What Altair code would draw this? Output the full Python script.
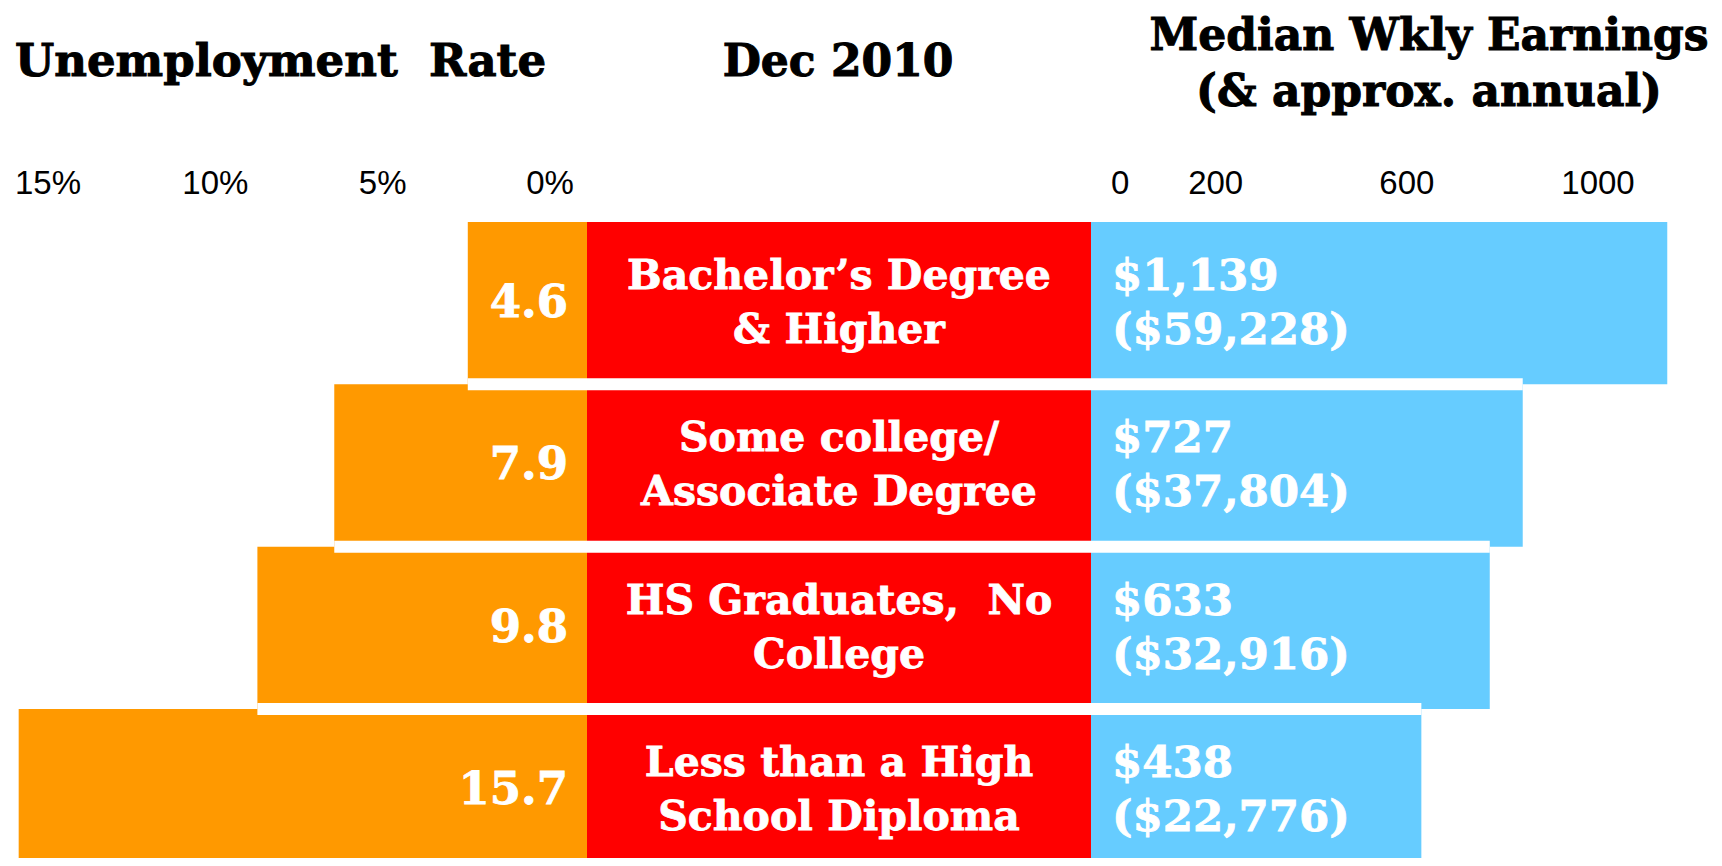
import altair as alt
import pandas as pd

# ---- data ----
label_line1 = ["Bachelor\u2019s Degree", "Some college/", "HS Graduates,\u00a0 No", "Less than a High"]
label_line2 = ["& Higher", "Associate Degree", "College", "School Diploma"]
unemployment_rate = [4.6, 7.9, 9.8, 15.7]
weekly_earnings = [1139, 727, 633, 438]
annual_earnings = [59228, 37804, 32916, 22776]
rate_ticks = [15, 10, 5, 0]
earn_ticks = [0, 200, 600, 1000]

title_left = "Unemployment\u00a0 Rate"
title_mid = "Dec 2010"
title_right1 = "Median Wkly Earnings"
title_right2 = "(& approx. annual)"

# ---- tables built from the arrays ----
rows = pd.DataFrame({
    "row": list(range(len(unemployment_rate))),
    "line1": label_line1,
    "line2": label_line2,
    "rate": unemployment_rate,
    "weekly": weekly_earnings,
    "annual": annual_earnings,
})
rows["row_end"] = rows["row"] + 1
rows["mid"] = rows["row"] + 0.5
rows["rate_label"] = rows["rate"].map(lambda v: f"{v:.1f}")
rows["weekly_label"] = rows["weekly"].map(lambda v: f"${v:,}")
rows["annual_label"] = rows["annual"].map(lambda v: f"(${v:,})")

BAND_HALF = 0.037  # half thickness of the white separators, in row units
n = len(unemployment_rate)
bands = pd.DataFrame({
    "boundary": [i + 1 for i in range(n - 1)],
    "rate": [min(unemployment_rate[i], unemployment_rate[i + 1]) for i in range(n - 1)],
    "weekly": [min(weekly_earnings[i], weekly_earnings[i + 1]) for i in range(n - 1)],
})
bands["b_top"] = bands["boundary"] - BAND_HALF
bands["b_bot"] = bands["boundary"] + BAND_HALF

rticks = pd.DataFrame({"tick": rate_ticks, "lab": [f"{t}%" for t in rate_ticks]})
eticks = pd.DataFrame({"tick": earn_ticks, "lab": [f"{t}" for t in earn_ticks]})

# ---- layout / style ----
LEFT_W, MID_W, RIGHT_W, H = 579, 504, 623, 850
ORANGE, RED, BLUE = "#FF9900", "#FF0000", "#66CCFF"
SERIF = "DejaVu Serif"
SANS = "Liberation Sans"

y_scale = alt.Scale(domain=[0, 4], range=[214, 863.3], nice=False, zero=False)
u_scale = alt.Scale(domain=[0, 15], range=[645.9, 39.0], nice=False, zero=False)
tu_scale = alt.Scale(domain=[0, 15], range=[542.0, 40.0], nice=False, zero=False)
e_scale = alt.Scale(domain=[0, 1000], range=[176.7, 527.5], nice=False, zero=False)
te_scale = alt.Scale(domain=[0, 1000], range=[29.1, 507.0], nice=False, zero=False)

Y_row = alt.Y("row:Q", scale=y_scale, axis=None)
Y2_row = alt.Y2("row_end:Q")
Y_mid = alt.Y("mid:Q", scale=y_scale, axis=None)
Y_btop = alt.Y("b_top:Q", scale=y_scale, axis=None)
Y_bbot = alt.Y2("b_bot:Q")


def title_text(text, x, y, align, size=44):
    return alt.Chart(pd.DataFrame({"t": [text]})).mark_text(
        align=align, baseline="alphabetic", font=SERIF, fontWeight="bold",
        fontSize=size, color="black", stroke="black", strokeWidth=1
    ).encode(x=alt.value(x), y=alt.value(y), text="t:N")


def white_text(align, size, dy=0):
    return dict(align=align, baseline="middle", font=SERIF, fontWeight="bold",
                fontSize=size, color="white", stroke="white", strokeWidth=0.8, dy=dy)


# ---- left panel: unemployment ----
base_rows = alt.Chart(rows)
orange = base_rows.mark_rect(color=ORANGE, clip=True).encode(
    x=alt.X("rate:Q", scale=u_scale, axis=None), x2=alt.value(LEFT_W), y=Y_row, y2=Y2_row)
orange_band = alt.Chart(bands).mark_rect(color="white").encode(
    x=alt.X("rate:Q", scale=u_scale, axis=None), x2=alt.value(LEFT_W), y=Y_btop, y2=Y_bbot)
rate_text = base_rows.mark_text(**white_text("right", 45)).encode(
    x=alt.value(560), y=Y_mid, text="rate_label:N")
rate_tick_text = alt.Chart(rticks).mark_text(align="center", baseline="middle", font=SANS,
                                             fontSize=33, color="black").encode(
    x=alt.X("tick:Q", scale=tu_scale, axis=None), y=alt.value(175.5), text="lab:N")
left = alt.layer(orange, orange_band, rate_text, rate_tick_text,
                 title_text(title_left, 7, 68, "left", 45)).resolve_scale(x="independent").properties(
    width=LEFT_W, height=H)

# ---- middle panel: labels ----
red = base_rows.mark_rect(color=RED, clip=True).encode(
    x=alt.value(0), x2=alt.value(MID_W), y=Y_row, y2=Y2_row)
red_band = alt.Chart(bands).mark_rect(color="white").encode(
    x=alt.value(0), x2=alt.value(MID_W), y=Y_btop, y2=Y_bbot)
lab1 = base_rows.mark_text(**white_text("center", 41, -26)).encode(
    x=alt.value(MID_W / 2), y=Y_mid, text="line1:N")
lab2 = base_rows.mark_text(**white_text("center", 41, 28)).encode(
    x=alt.value(MID_W / 2), y=Y_mid, text="line2:N")
middle = alt.layer(red, red_band, lab1, lab2,
                   title_text(title_mid, 251, 68, "center")).properties(width=MID_W, height=H)

# ---- right panel: earnings ----
blue = base_rows.mark_rect(color=BLUE, clip=True).encode(
    x=alt.X("weekly:Q", scale=e_scale, axis=None), x2=alt.value(0), y=Y_row, y2=Y2_row)
blue_band = alt.Chart(bands).mark_rect(color="white").encode(
    x=alt.X("weekly:Q", scale=e_scale, axis=None), x2=alt.value(0), y=Y_btop, y2=Y_bbot)
wk_text = base_rows.mark_text(**white_text("left", 43.5, -26)).encode(
    x=alt.value(21), y=Y_mid, text="weekly_label:N")
an_text = base_rows.mark_text(**white_text("left", 43.5, 28)).encode(
    x=alt.value(21), y=Y_mid, text="annual_label:N")
earn_tick_text = alt.Chart(eticks).mark_text(align="center", baseline="middle", font=SANS,
                                             fontSize=33, color="black").encode(
    x=alt.X("tick:Q", scale=te_scale, axis=None), y=alt.value(175.5), text="lab:N")
right = alt.layer(blue, blue_band, wk_text, an_text, earn_tick_text,
                  title_text(title_right1, 338, 41.5, "center"),
                  title_text(title_right2, 338, 98, "center")).resolve_scale(x="independent").properties(
    width=RIGHT_W, height=H)

chart = alt.hconcat(left, middle, right, spacing=0, bounds="flush").resolve_scale(
    x="independent", y="independent").properties(padding=0).configure_view(strokeWidth=0)

chart.save("out.html", embed_options={"renderer": "svg", "actions": False})
